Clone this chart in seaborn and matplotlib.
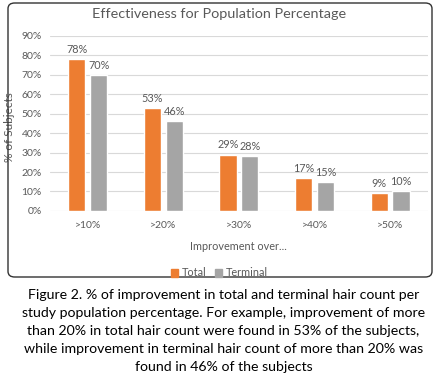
import matplotlib.pyplot as plt
import seaborn as sns
import pandas as pd
from matplotlib.patches import FancyBboxPatch, Patch
from matplotlib.ticker import PercentFormatter

categories = [">10%", ">20%", ">30%", ">40%", ">50%"]
total = [78, 53, 29, 17, 9]
terminal = [70, 46, 28, 15, 10]
series = ["Total", "Terminal"]
colors = ["#ED7D31", "#A5A5A5"]
title = "Effectiveness for Population Percentage"
caption = ("Figure 2. % of improvement in total and terminal hair count per\n"
           "study population percentage. For example, improvement of more\n"
           "than 20% in total hair count were found in 53% of the subjects,\n"
           "while improvement in terminal hair count of more than 20% was\n"
           "found in 46% of the subjects")

df = pd.DataFrame({
    "cat": categories * 2,
    "val": [v / 100 for v in total + terminal],
    "series": [series[0]] * len(total) + [series[1]] * len(terminal),
})

sns.set_theme(style="white")
plt.rcParams["font.family"] = ["Lato", "DejaVu Sans"]
grey = "#595959"

fig = plt.figure(figsize=(4.47, 3.78), dpi=100)
ax = fig.add_axes([0.112, 0.442, 0.845, 0.463])
sns.barplot(data=df, x="cat", y="val", hue="series", palette=colors,
            width=0.58, gap=0.22, saturation=1, ax=ax, legend=False)

for cont, vals in zip(ax.containers, [total, terminal]):
    ax.bar_label(cont, labels=[f"{v}%" for v in vals], padding=3,
                 fontsize=7.8, color=grey)

ax.set_ylim(0, 0.9)
ax.set_yticks([i / 10 for i in range(10)])
ax.yaxis.set_major_formatter(PercentFormatter(1.0, decimals=0))
ax.grid(axis="y", color="#D9D9D9", lw=0.8)
ax.set_axisbelow(True)
sns.despine(ax=ax, left=True, bottom=True)
ax.tick_params(length=0, labelsize=7.5, labelcolor=grey)
ax.tick_params(axis="x", pad=7)
ax.tick_params(axis="y", pad=6)
ax.set_xlabel("Improvement over...", fontsize=7.8, color=grey, labelpad=8)
ax.set_ylabel("% of Subjects", fontsize=8.5, color=grey)
ax.yaxis.set_label_coords(-0.093, 0.48)

fig.text(219 / 447, 1 - 14 / 378, title, ha="center", va="center",
         fontsize=10.4, color=grey)

handles = [Patch(color=c) for c in colors]
fig.legend(handles, series, loc="center", bbox_to_anchor=(219 / 447, 1 - 273 / 378),
           ncol=2, frameon=False, handlelength=0.7, handleheight=0.7,
           handletextpad=0.3, columnspacing=0.8, fontsize=7.8, labelcolor=grey)

box = FancyBboxPatch((8 / 447, 1 - 277 / 378), 424 / 447, 274 / 378,
                     boxstyle="round,pad=0,rounding_size=0.015",
                     transform=fig.transFigure, fill=False, ec="#333333", lw=1)
fig.add_artist(box)

fig.text(0.5, 1 - 331 / 378, caption, ha="center", va="center",
         fontsize=10.2, linespacing=1.58, color="black")

fig.savefig("out.png", dpi=100)
